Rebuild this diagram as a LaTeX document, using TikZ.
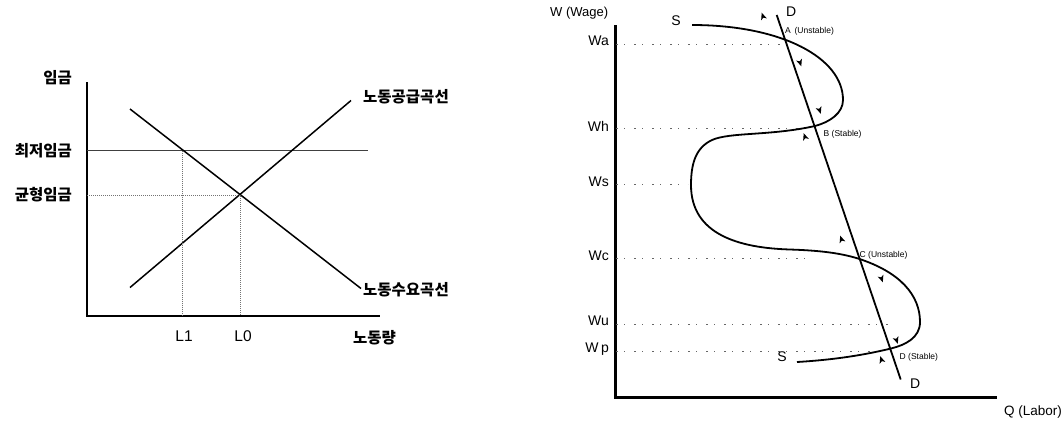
\documentclass[tikz,border=0pt]{standalone}
\usepackage{fontspec}
\setmainfont{Liberation Sans}
\newfontfamily\kr{Noto Sans CJK KR}
\usetikzlibrary{arrows.meta}
\tikzset{
  axisL/.style={line width=1.8pt, black},
  curveL/.style={line width=1.5pt, black},
  minline/.style={line width=1pt, black!75},
  dotL/.style={line width=0.9pt, black!55, dash pattern=on 1pt off 1pt},
  krlab/.style={font=\kr\bfseries\fontsize{15.5}{16}\selectfont, inner sep=0pt},
  llab/.style={font=\fontsize{15.5}{16}\selectfont, inner sep=0pt},
  axisR/.style={line width=2.4pt, black},
  curveR/.style={line width=1.8pt, black},
  dotR/.style={line width=1pt, black!60, dash pattern=on 2pt off 6pt on 1pt off 9pt},
  wlab/.style={font=\fontsize{14}{15}\selectfont, inner sep=0pt},
  smlab/.style={font=\fontsize{8.5}{9}\selectfont, inner sep=0pt},
  upmark/.pic={\fill (0,-4) -- (-3,3) -- (0,1.2) -- (3,3) -- cycle;}
}
\begin{document}
\begin{tikzpicture}[x=1pt,y=-1pt]
\useasboundingbox (0,0) rectangle (1062,421);
% ---------------- left diagram ----------------
\coordinate (yTop) at (87,82);
\coordinate (org) at (87,316);
\coordinate (xEnd) at (380,316);
\draw[axisL] (yTop) -- (org) -- (xEnd);
\coordinate (minL) at (87,150.5);
\coordinate (minR) at (368,150.5);
\draw[minline] (minL) -- (minR);
\coordinate (dA) at (130,109);
\coordinate (dB) at (361,288.5);
\coordinate (sA) at (130,287.5);
\coordinate (sB) at (351,100.5);
\draw[curveL] (dA) -- (dB);
\draw[curveL] (sA) -- (sB);
\coordinate (eqL) at (87,195);
\coordinate (eq) at (240,195);
\coordinate (eqB) at (240,316);
\coordinate (l1T) at (182,150.5);
\coordinate (l1B) at (182,316);
\draw[dotL] (eqL) -- (eq) -- (eqB);
\draw[dotL] (l1T) -- (l1B);
\node[krlab, anchor=east] (wage) at (72,78) {임금};
\node[krlab, anchor=east] (minw) at (72,150.5) {최저임금};
\node[krlab, anchor=east] (eqw) at (72,195) {균형임금};
\node[krlab, anchor=west] (sup) at (363,97) {노동공급곡선};
\node[krlab, anchor=west] (dem) at (363,290) {노동수요곡선};
\node[krlab, anchor=west] (qty) at (353,338) {노동량};
\node[llab] (L1) at (184,336.5) {L1};
\node[llab] (L0) at (243,336.5) {L0};
% ---------------- right diagram ----------------
\coordinate (RyTop) at (615.5,25);
\coordinate (Rorg) at (615.5,397.5);
\coordinate (RxEnd) at (996.5,397.5);
\draw[axisR] (RyTop) -- (Rorg) -- (RxEnd);
\node[font=\fontsize{13}{14}\selectfont, inner sep=0pt, anchor=west] (wtitle) at (550,13.5) {W (Wage)};
\node[font=\fontsize{13.5}{14}\selectfont, inner sep=0pt, anchor=west] (qtitle) at (1004,411.5) {Q (Labor)};
% wage levels
\node[wlab, anchor=east] (Wa) at (609,41) {Wa};
\node[wlab, anchor=east] (Wh) at (609,126.5) {Wh};
\node[wlab, anchor=east] (Ws) at (609,182) {Ws};
\node[wlab, anchor=east] (Wc) at (609,256) {Wc};
\node[wlab, anchor=east] (Wu) at (609,321) {Wu};
\node[wlab, anchor=east] (Wp) at (609,349) {W\,p};
\coordinate (ya) at (616,44);   \coordinate (xa) at (784,44);
\coordinate (yh) at (616,128.5); \coordinate (xh) at (813,128.5);
\coordinate (ys) at (616,184);  \coordinate (xs) at (688,184);
\coordinate (yc) at (616,258.5); \coordinate (xc) at (805,258.5);
\coordinate (yu) at (616,324.5); \coordinate (xu) at (892,324.5);
\coordinate (yp) at (616,351.5); \coordinate (xp) at (882,351.5);
\draw[dotR] (ya) -- (xa);
\draw[dotR] (yh) -- (xh);
\draw[dotR] (ys) -- (xs);
\draw[dotR] (yc) -- (xc);
\draw[dotR] (yu) -- (xu);
\draw[dotR] (yp) -- (xp);
% demand line
\coordinate (Dtop) at (776.7,15);
\coordinate (Dbot) at (900.7,379.5);
\draw[curveR] (Dtop) -- (Dbot);
\node[wlab, anchor=west] (Dt) at (786,11.5) {D};
\node[wlab, anchor=west] (Db) at (910,384) {D};
% supply S-curve
\coordinate (S0) at (692,25);
\coordinate (R1) at (843,100);
\coordinate (ptB) at (815,126);
\coordinate (m1) at (712,140);
\coordinate (Lft) at (691,185);
\coordinate (m2) at (790,249.5);
\coordinate (ptC) at (858,258.5);
\coordinate (R2) at (920,322);
\coordinate (ptD) at (891,348.5);
\coordinate (S1) at (797,362);
\draw[curveR] (S0) .. controls (782,25) and (843,58) .. (R1)
  .. controls (843,113) and (830,122) .. (ptB)
  .. controls (770,136) and (730,132) .. (m1)
  .. controls (695,148) and (691,165) .. (Lft)
  .. controls (691,235) and (740,248) .. (m2)
  .. controls (820,250.5) and (840,253) .. (ptC)
  .. controls (900,272) and (920,295) .. (R2)
  .. controls (920,338) and (905,345) .. (ptD)
  .. controls (860,356) and (830,360) .. (S1);
\node[wlab, anchor=center] (St) at (676,21) {S};
\node[wlab, anchor=center] (Sb) at (782,357) {S};
\node[smlab, anchor=west] (lA) at (785,31.5) {A \,(Unstable)};
\node[smlab, anchor=west] (lB) at (823.5,134.5) {B (Stable)};
\node[smlab, anchor=west] (lC) at (859.5,255) {C (Unstable)};
\node[smlab, anchor=west] (lD) at (899.5,357.5) {D (Stable)};
% direction marks
\pic[rotate=18.8] at (763,16.5) {upmark};
\pic[rotate=198.8] at (800,62.5) {upmark};
\pic[rotate=198.8] at (819.5,110) {upmark};
\pic[rotate=18.8] at (805,137) {upmark};
\pic[rotate=18.8] at (841.5,239.5) {upmark};
\pic[rotate=198.8] at (881.5,278.5) {upmark};
\pic[rotate=198.8] at (896.5,340) {upmark};
\pic[rotate=18.8] at (881.5,360) {upmark};
\end{tikzpicture}
\end{document}
